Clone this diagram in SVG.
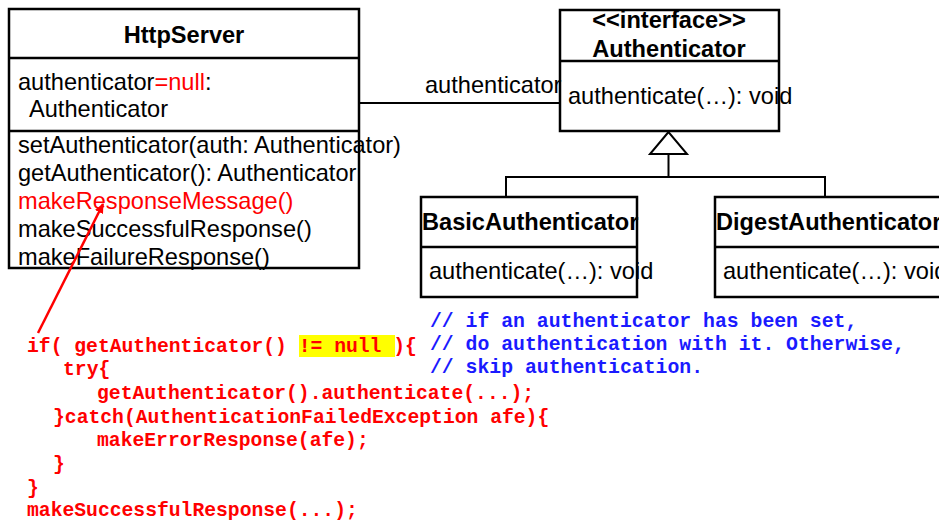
<svg xmlns="http://www.w3.org/2000/svg" width="939" height="520" viewBox="0 0 939 520">
  <defs>
    <style>
      .box { fill: #ffffff; stroke: #000000; stroke-width: 2.5; }
      .div { stroke: #000000; stroke-width: 2.5; fill: none; }
      .edge { stroke: #000000; stroke-width: 2; fill: none; }
      .t { font-family: "Liberation Sans", Arial, sans-serif; font-size: 23.6px; fill: #000000; }
      .b { font-family: "Liberation Sans", Arial, sans-serif; font-size: 23.6px; font-weight: bold; fill: #000000; }
      .red { fill: #ff0000; }
      .code { font-family: "Liberation Mono", "Courier New", monospace; font-size: 19.7px; font-weight: bold; fill: #ff0000; white-space: pre; }
      .cmt { font-family: "Liberation Mono", "Courier New", monospace; font-size: 19.8px; font-weight: bold; fill: #1a1aff; white-space: pre; }
    </style>
    <marker id="redHead" markerWidth="10" markerHeight="10" refX="9" refY="5" orient="auto" markerUnits="userSpaceOnUse">
      <path d="M0,0.5 L10,5 L0,9.5 Z" fill="#ff0000"/>
    </marker>
  </defs>
  <rect width="939" height="520" fill="#ffffff"/>

  <!-- HttpServer class -->
  <g id="HttpServer">
    <rect class="box" x="9" y="9" width="350" height="259"/>
    <line class="div" x1="9" y1="58" x2="359" y2="58"/>
    <line class="div" x1="9" y1="131" x2="359" y2="131"/>
    <text class="b" x="184" y="43" text-anchor="middle">HttpServer</text>
    <text class="t" x="18" y="90">authenticator<tspan class="red">=null</tspan>:</text>
    <text class="t" x="29" y="117">Authenticator</text>
    <text class="t" x="18" y="153">setAuthenticator(auth: Authenticator)</text>
    <text class="t" x="18" y="181">getAuthenticator(): Authenticator</text>
    <text class="t red" x="18" y="209">makeResponseMessage()</text>
    <text class="t" x="18" y="237">makeSuccessfulResponse()</text>
    <text class="t" x="18" y="265">makeFailureResponse()</text>
  </g>

  <!-- Authenticator interface -->
  <g id="Authenticator">
    <rect class="box" x="560" y="10" width="219" height="121"/>
    <line class="div" x1="560" y1="61" x2="779" y2="61"/>
    <text class="b" x="669" y="28" text-anchor="middle">&lt;&lt;interface&gt;&gt;</text>
    <text class="b" x="669" y="57" text-anchor="middle">Authenticator</text>
    <text class="t" x="568" y="104">authenticate(…): void</text>
  </g>

  <!-- BasicAuthenticator class -->
  <g id="BasicAuthenticator">
    <rect class="box" x="421" y="197" width="216" height="100"/>
    <line class="div" x1="421" y1="247" x2="637" y2="247"/>
    <text class="b" x="422" y="230">BasicAuthenticator</text>
    <text class="t" x="429" y="279">authenticate(…): void</text>
  </g>

  <!-- DigestAuthenticator class (runs past the right edge) -->
  <g id="DigestAuthenticator">
    <rect class="box" x="715" y="197" width="260" height="100"/>
    <line class="div" x1="715" y1="247" x2="975" y2="247"/>
    <text class="b" x="716" y="230">DigestAuthenticator</text>
    <text class="t" x="723" y="279">authenticate(…): void</text>
  </g>

  <!-- code snippet -->
  <g id="code">
    <rect x="299" y="335" width="96" height="22" fill="#ffff00"/>
    <text class="code" x="27" y="352">if( getAuthenticator() != null ){</text>
    <text class="code" x="63" y="375">try{</text>
    <text class="code" x="97" y="399">getAuthenticator().authenticate(...);</text>
    <text class="code" x="53" y="423">}catch(AuthenticationFailedException afe){</text>
    <text class="code" x="97" y="446">makeErrorResponse(afe);</text>
    <text class="code" x="53" y="470">}</text>
    <text class="code" x="27" y="494">}</text>
    <text class="code" x="27" y="516">makeSuccessfulResponse(...);</text>
  </g>

  <!-- comment -->
  <g id="comment">
    <text class="cmt" x="430" y="327">// if an authenticator has been set,</text>
    <text class="cmt" x="430" y="350">// do authentication with it. Otherwise,</text>
    <text class="cmt" x="430" y="373">// skip authentication.</text>
  </g>

  <!-- connectors (drawn last so the red pointer sits over the class box) -->
  <g id="connectors">
    <line class="edge" x1="359" y1="103" x2="560" y2="103"/>
    <text class="t" x="425" y="93">authenticator</text>
    <polygon points="668.5,132 650,154 687,154" fill="#ffffff" stroke="#000000" stroke-width="2"/>
    <polyline class="edge" points="668.5,154 668.5,177"/>
    <polyline class="edge" points="506,197 506,177 825,177 825,197"/>
    <line x1="38" y1="333" x2="103" y2="204" stroke="#ff0000" stroke-width="2.5" marker-end="url(#redHead)"/>
  </g>
</svg>
